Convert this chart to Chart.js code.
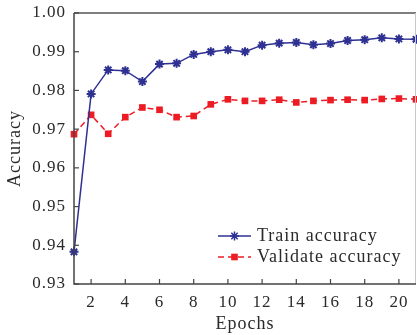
<!DOCTYPE html>
<html><head><meta charset="utf-8">
<script src="https://cdn.jsdelivr.net/npm/chart.js@4.4.1/dist/chart.umd.min.js"></script>
<style>html,body{margin:0;padding:0;background:#fff}#wrap{width:417px;height:335px}</style>
</head><body><div id="wrap"><canvas id="c" width="417" height="335"></canvas></div>
<script>
const epochs = [1,2,3,4,5,6,7,8,9,10,11,12,13,14,15,16,17,18,19,20,21];
const trainAcc = [0.9383,0.9791,0.9853,0.9851,0.9823,0.9868,0.9870,0.9893,0.9900,0.9905,0.9900,0.9917,0.9922,0.9924,0.9918,0.9921,0.9929,0.9931,0.9936,0.9933,0.9932];
const validAcc = [0.9687,0.9737,0.9688,0.9731,0.9756,0.9750,0.9731,0.9734,0.9764,0.9777,0.9773,0.9773,0.9776,0.9769,0.9773,0.9775,0.9776,0.9775,0.9778,0.9779,0.9777];
const xTicks = [2,4,6,8,10,12,14,16,18,20];
const yTicks = [0.93,0.94,0.95,0.96,0.97,0.98,0.99,1.00];
const seriesNames = ['Train accuracy','Validate accuracy'];

const FONT = "'Liberation Serif','Times New Roman',serif";
const BLUE = '#2e3192';
const RED = '#ed1c24';
const TXT = '#2a2a2a';

function setSpacing(ctx, v){ if ('letterSpacing' in ctx) ctx.letterSpacing = v; }
const spacingPlugin = {
  id:'spacing',
  beforeUpdate(chart){ setSpacing(chart.ctx,'1px'); },
  beforeLayout(chart){ setSpacing(chart.ctx,'1px'); },
  beforeDraw(chart){ setSpacing(chart.ctx,'1px'); }
};

const framePlugin = {
  id:'frame',
  afterDatasetsDraw(chart){
    const {ctx, chartArea:a, scales} = chart;
    ctx.save();
    ctx.strokeStyle = '#555'; ctx.lineWidth = 1.5;
    ctx.beginPath(); ctx.moveTo(a.left, a.top); ctx.lineTo(a.right, a.top); ctx.stroke();
    ctx.strokeStyle = '#c8c8c8'; ctx.lineWidth = 1;
    ctx.beginPath(); ctx.moveTo(a.right-0.5, a.top); ctx.lineTo(a.right-0.5, a.bottom); ctx.stroke();
    ctx.strokeStyle = '#444'; ctx.lineWidth = 1.5;
    ctx.beginPath(); ctx.moveTo(a.left, a.top); ctx.lineTo(a.left, a.bottom); ctx.lineTo(a.right, a.bottom); ctx.stroke();
    ctx.lineWidth = 1.2;
    xTicks.forEach(v=>{
      const x = scales.x.getPixelForValue(v);
      ctx.beginPath(); ctx.moveTo(x, a.bottom); ctx.lineTo(x, a.bottom-5); ctx.stroke();
    });
    yTicks.forEach(v=>{
      const y = scales.y.getPixelForValue(v);
      ctx.beginPath(); ctx.moveTo(a.left, y); ctx.lineTo(a.left+5, y); ctx.stroke();
    });
    const lx = 218, ly = [236, 257];
    chart.data.datasets.forEach((ds,i)=>{
      ctx.strokeStyle = ds.borderColor; ctx.lineWidth = 1.5;
      ctx.setLineDash(ds.borderDash || []);
      ctx.beginPath(); ctx.moveTo(lx, ly[i]); ctx.lineTo(lx+33, ly[i]); ctx.stroke();
      ctx.setLineDash([]);
      ctx.fillStyle = ds.pointBackgroundColor; ctx.strokeStyle = ds.pointBorderColor;
      Chart.helpers.drawPoint(ctx, {pointStyle: ds.pointStyle, radius: ds.pointRadius, borderWidth: ds.pointBorderWidth, rotation:0}, lx+16.5, ly[i]);
      ctx.fillStyle = TXT;
      ctx.font = `18px ${FONT}`;
      ctx.textBaseline = 'middle';
      ctx.textAlign = 'left';
      setSpacing(ctx,'1px');
      ctx.fillText(ds.label, lx+39, ly[i]);
    });
    ctx.restore();
  }
};

new Chart(document.getElementById('c'), {
  type:'line',
  data:{
    datasets:[
      {label:seriesNames[0], data:epochs.map((e,i)=>({x:e,y:trainAcc[i]})), borderColor:BLUE, backgroundColor:BLUE, borderWidth:1.5,
       pointStyle:'star', pointRadius:4.5, pointBorderWidth:2, pointBorderColor:BLUE, pointBackgroundColor:BLUE, tension:0, clip:false},
      {label:seriesNames[1], data:epochs.map((e,i)=>({x:e,y:validAcc[i]})), borderColor:RED, backgroundColor:RED, borderWidth:1.5, borderDash:[6,4],
       pointStyle:'rect', pointRadius:4.7, pointBorderWidth:0, pointBackgroundColor:RED, pointBorderColor:RED, tension:0, clip:false}
    ]
  },
  options:{
    responsive:false, animation:false, devicePixelRatio:1,
    layout:{padding:{top:13,right:1,left:0,bottom:0}, autoPadding:false},
    plugins:{legend:{display:false}, tooltip:{enabled:false}},
    scales:{
      x:{type:'linear', min:1, max:21,
        afterBuildTicks(s){ s.ticks = xTicks.map(v=>({value:v})); },
        afterFit(s){ s.height = 51; s.paddingLeft = 0; s.paddingRight = 0; },
        grid:{display:false, drawTicks:false}, border:{display:false},
        ticks:{font:{family:FONT,size:17}, color:TXT, padding:8, maxRotation:0, autoSkip:false},
        title:{display:true, text:'Epochs', font:{family:FONT,size:18}, color:TXT, padding:{top:1,bottom:0}}
      },
      y:{type:'linear', min:0.93, max:1.00,
        afterBuildTicks(s){ s.ticks = yTicks.map(v=>({value:v})); },
        afterFit(s){ s.width = 74; s.paddingTop = 0; s.paddingBottom = 0; },
        grid:{display:false, drawTicks:false}, border:{display:false},
        ticks:{font:{family:FONT,size:17}, color:TXT, padding:8, callback:v=>Number(v).toFixed(2), autoSkip:false},
        title:{display:true, text:'Accuracy', font:{family:FONT,size:18}, color:TXT, padding:{top:4,bottom:2}}
      }
    }
  },
  plugins:[spacingPlugin, framePlugin]
});
</script></body></html>
